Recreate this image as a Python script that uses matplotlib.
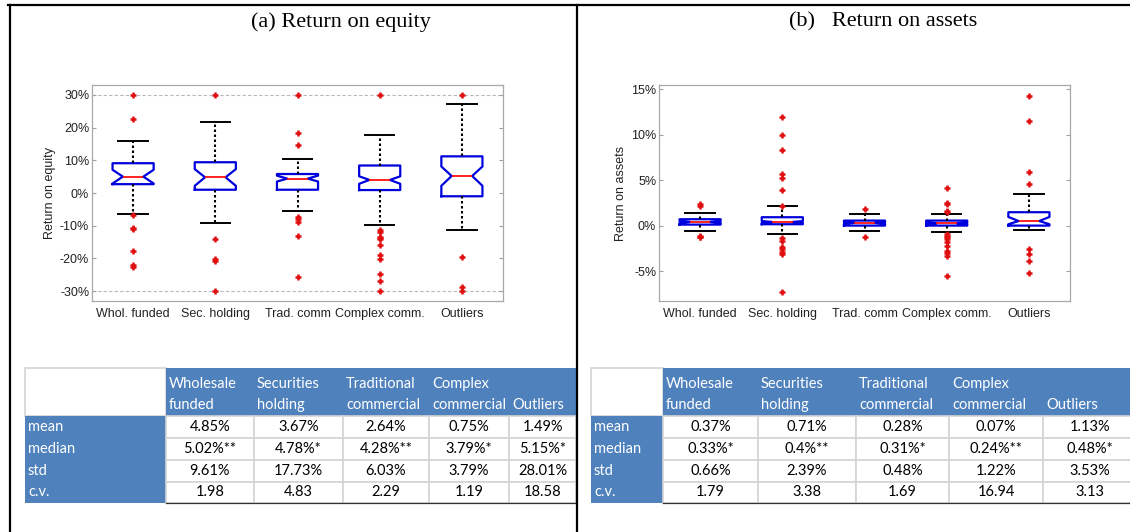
import matplotlib
matplotlib.use('Agg')
import matplotlib.pyplot as plt
from matplotlib.patches import Rectangle
from matplotlib.ticker import FuncFormatter

plt.rcParams['axes.unicode_minus'] = False

# --- data ---
groups = ["Whol. funded", "Sec. holding", "Trad. comm", "Complex comm.", "Outliers"]

# return on equity (%)
roe_med = [5.0, 4.8, 4.4, 4.0, 5.2]
roe_q1 = [2.7, 1.0, 1.0, 0.9, -1.0]
roe_q3 = [9.1, 9.4, 5.8, 8.4, 11.2]
roe_lo = [-6.5, -9.3, -5.4, -9.9, -11.3]
roe_hi = [15.8, 21.7, 10.3, 17.7, 27.3]
roe_cilo = [2.9, 2.2, 3.5, 2.8, 2.2]
roe_cihi = [7.1, 7.3, 5.3, 5.1, 8.1]
roe_fliers = [
    [30, 22.7, -6.7, -10.8, -11.0, -17.7, -22.0, -22.5],
    [30, -14.0, -20.3, -20.8, -30],
    [30, 18.4, 14.8, -7.3, -7.9, -8.9, -13.2, -25.8],
    [30, -11.2, -12.0, -13.3, -13.8, -14.2, -15.8, -19.0, -20.3, -24.6, -27.0, -30],
    [30, -19.6, -28.8, -30],
]
roe_limits = [-30, 30]

# return on assets (%)
roa_med = [0.4, 0.4, 0.3, 0.26, 0.5]
roa_q1 = [0.11, 0.15, 0.0, 0.0, 0.0]
roa_q3 = [0.7, 0.92, 0.55, 0.55, 1.47]
roa_lo = [-0.59, -0.88, -0.6, -0.7, -0.44]
roa_hi = [1.43, 2.1, 1.25, 1.25, 3.5]
roa_cilo = [0.3, 0.3, 0.2, 0.18, 0.15]
roa_cihi = [0.5, 0.5, 0.4, 0.34, 0.95]
roa_fliers = [
    [2.4, 2.1, -1.1, -1.2, -1.3],
    [11.9, 10.0, 8.3, 5.7, 5.2, 3.9, 2.2, -1.4, -1.7, -2.4, -2.6, -2.9, -3.1, -7.3],
    [1.8, -1.3],
    [4.1, 2.5, 2.4, 1.6, 1.5, -0.9, -1.1, -1.3, -1.5, -1.8, -2.2, -2.8, -3.0, -3.3, -5.5],
    [14.2, 11.5, 5.9, 4.6, -2.6, -3.1, -3.9, -5.2],
]

col_heads = ["Wholesale\nfunded", "Securities\nholding", "Traditional\ncommercial",
             "Complex\ncommercial", "Outliers"]
row_heads = ["mean", "median", "std", "c.v."]
roe_tab = [["4.85%", "3.67%", "2.64%", "0.75%", "1.49%"],
           ["5.02%**", "4.78%*", "4.28%**", "3.79%*", "5.15%*"],
           ["9.61%", "17.73%", "6.03%", "3.79%", "28.01%"],
           ["1.98", "4.83", "2.29", "1.19", "18.58"]]
roa_tab = [["0.37%", "0.71%", "0.28%", "0.07%", "1.13%"],
           ["0.33%*", "0.4%**", "0.31%*", "0.24%**", "0.48%*"],
           ["0.66%", "2.39%", "0.48%", "1.22%", "3.53%"],
           ["1.79", "3.38", "1.69", "16.94", "3.13"]]

W, H = 1130, 532
fig = plt.figure(figsize=(W / 100, H / 100), dpi=100)
fig.patch.set_facecolor('white')

# background layer in pixel coords for frame + tables
bg = fig.add_axes([0, 0, 1, 1], zorder=0)
bg.set_xlim(0, W)
bg.set_ylim(H, 0)
bg.axis('off')

# frame lines
bg.plot([8, W], [5, 5], color='black', lw=1.6)
bg.plot([10, 10], [5, H], color='black', lw=1.6)

# titles
bg.text(341, 22, "(a) Return on equity", family='Liberation Serif', fontsize=16,
        ha='center', va='center')
bg.text(883, 22, "(b)   Return on assets", family='Liberation Serif', fontsize=16,
        ha='center', va='center')

BLUE = '#4F81BD'
GRID = '#D4D4D4'
tfont = dict(family='Lato', fontsize=10.5)


def draw_table(xs, table):
    ys = [368, 416, 438, 460, 482, 503]
    # top-left empty cell
    bg.add_patch(Rectangle((xs[0], ys[0]), xs[1] - xs[0], ys[1] - ys[0],
                           facecolor='white', edgecolor=GRID, lw=1.2))
    # header row and first column
    bg.add_patch(Rectangle((xs[1], ys[0]), xs[-1] - xs[1], ys[1] - ys[0],
                           facecolor=BLUE, edgecolor='none'))
    bg.add_patch(Rectangle((xs[0], ys[1]), xs[1] - xs[0], ys[-1] - ys[1],
                           facecolor=BLUE, edgecolor='none'))
    for j, head in enumerate(col_heads):
        lines = head.split("\n")
        line_y = [405] if len(lines) == 1 else [384, 405]
        for ln, y in zip(lines, line_y):
            bg.text(xs[j + 1] + 3, y, ln, color='white', ha='left', va='center', **tfont)
    for i, rh in enumerate(row_heads):
        yc = (ys[i + 1] + ys[i + 2]) / 2
        bg.text(xs[0] + 3, yc, rh, color='white', ha='left', va='center', **tfont)
        for j in range(5):
            bg.add_patch(Rectangle((xs[j + 1], ys[i + 1]), xs[j + 2] - xs[j + 1],
                                   ys[i + 2] - ys[i + 1], facecolor='white',
                                   edgecolor=GRID, lw=1.2))
            bg.text((xs[j + 1] + xs[j + 2]) / 2, yc, table[i][j], color='black',
                    ha='center', va='center', **tfont)
    bg.plot([xs[1], xs[-1]], [ys[-1], ys[-1]], color='#303030', lw=0.9)


draw_table([25, 166, 254, 343, 429, 509, 576], roe_tab)
draw_table([591, 663, 758, 856, 949, 1043, 1137], roa_tab)
bg.plot([577, 577], [5, H], color='black', lw=1.6)


def make_stats(med, q1, q3, lo, hi, cilo, cihi, fliers):
    return [dict(med=med[k], q1=q1[k], q3=q3[k], whislo=lo[k], whishi=hi[k],
                 cilo=cilo[k], cihi=cihi[k], fliers=fliers[k], label=groups[k])
            for k in range(len(groups))]


def box_panel(rect, stats, ylim, yticks, ylabel):
    ax = fig.add_axes(rect, zorder=2)
    ax.bxp(stats, positions=range(1, 6), widths=0.5, shownotches=True, capwidths=0.36,
           boxprops=dict(color='#0000DD', lw=1.6),
           medianprops=dict(color='#FF1010', lw=1.3),
           whiskerprops=dict(color='black', ls=(0, (1.2, 1.2)), lw=1.5),
           capprops=dict(color='black', lw=1.4),
           flierprops=dict(marker='+', markeredgecolor='#E01010', markersize=5,
                           markeredgewidth=1.8))
    ax.set_xlim(0.5, 5.5)
    ax.set_ylim(*ylim)
    ax.set_yticks(yticks)
    ax.yaxis.set_major_formatter(FuncFormatter(lambda v, p: f"{v:.0f}%"))
    ax.tick_params(axis='y', direction='in', length=3, right=True, left=True,
                   labelsize=9, pad=2, colors='#A0A0A0', labelcolor='#222222')
    ax.tick_params(axis='x', length=0, labelsize=9, pad=5, labelcolor='#222222')
    for lab in ax.get_xticklabels() + ax.get_yticklabels():
        lab.set_family('Liberation Sans')
    for s in ax.spines.values():
        s.set_color('#A8A8A8')
        s.set_linewidth(0.9)
    ax.set_ylabel(ylabel, family='Liberation Sans', fontsize=9, labelpad=3, color='#222222')
    return ax


ax1 = box_panel([92 / W, 1 - 301 / H, 411 / W, 216 / H],
                make_stats(roe_med, roe_q1, roe_q3, roe_lo, roe_hi, roe_cilo, roe_cihi, roe_fliers),
                (-33.0, 33.0), [-30, -20, -10, 0, 10, 20, 30], "Return on equity")
for v in roe_limits:
    ax1.axhline(v, color='#B8B8B8', ls=(0, (3, 2)), lw=0.8, zorder=0)

ax2 = box_panel([659 / W, 1 - 301 / H, 411 / W, 216 / H],
                make_stats(roa_med, roa_q1, roa_q3, roa_lo, roa_hi, roa_cilo, roa_cihi, roa_fliers),
                (-8.28, 15.44), [-5, 0, 5, 10, 15], "Return on assets")

fig.savefig("out.png", dpi=100)
